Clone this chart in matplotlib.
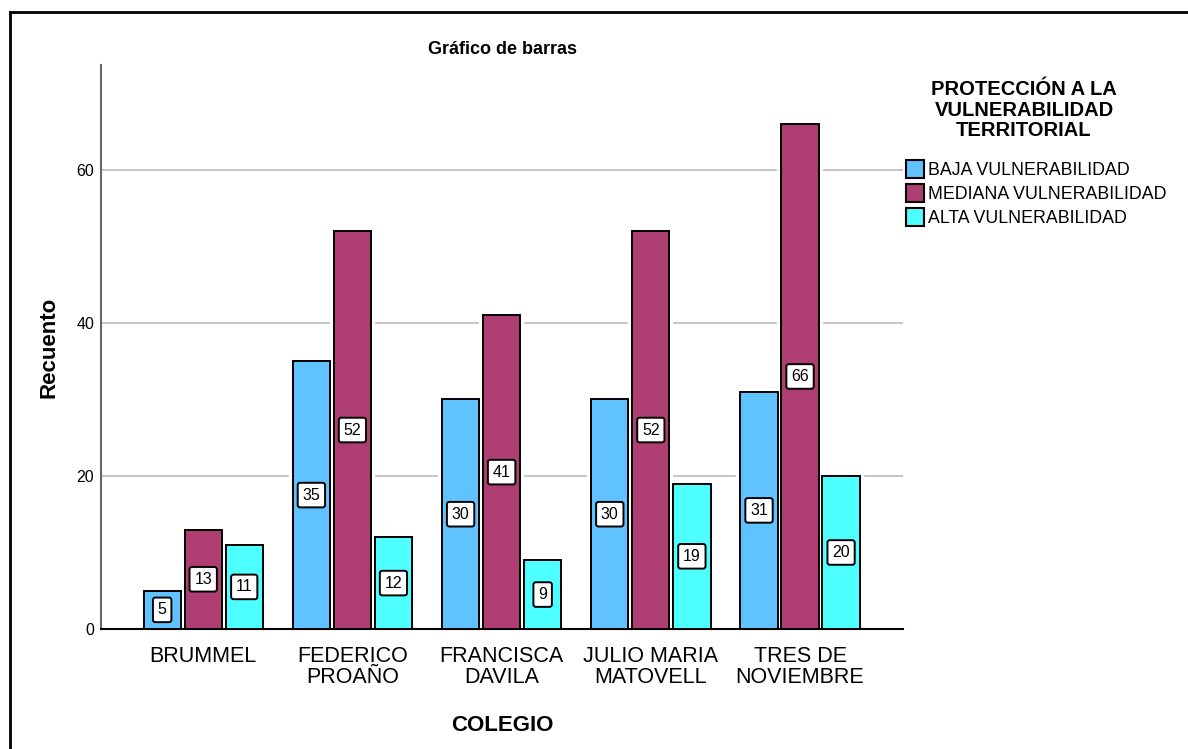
import numpy as np
import matplotlib
matplotlib.use('Agg')
import matplotlib.pyplot as plt
from matplotlib.lines import Line2D
from matplotlib.patches import Patch

plt.rcParams['font.family'] = ['Liberation Sans', 'DejaVu Sans']

# Datos
colegios = ['BRUMMEL', 'FEDERICO\nPROAÑO', 'FRANCISCA\nDAVILA', 'JULIO MARIA\nMATOVELL', 'TRES DE\nNOVIEMBRE']
series = ['BAJA VULNERABILIDAD', 'MEDIANA VULNERABILIDAD', 'ALTA VULNERABILIDAD']
baja = [5, 35, 30, 30, 31]
mediana = [13, 52, 41, 52, 66]
alta = [11, 12, 9, 19, 20]
colores = ['#60C2FF', '#AE3D71', '#4DFFFF']

fig = plt.figure(figsize=(11.88, 7.49), dpi=100)
ax = fig.add_axes([101 / 1188, 1 - 629 / 749, (903 - 101) / 1188, (629 - 65) / 749])

x = np.arange(len(colegios))
width = 0.25
offsets = [-0.275, 0, 0.275]

for vals, off, col in zip([baja, mediana, alta], offsets, colores):
    # contorno blanco que corta las lineas de cuadricula
    ax.bar(x + off, vals, width, color=col, edgecolor='white', linewidth=6, zorder=2)
    bars = ax.bar(x + off, vals, width, color=col, edgecolor='black', linewidth=1.4, zorder=3)
    for b, v in zip(bars, vals):
        ax.text(b.get_x() + b.get_width() / 2, v / 2, str(v), ha='center', va='center',
                fontsize=11.5, zorder=5,
                bbox=dict(boxstyle='round,pad=0.3,rounding_size=0.15', fc='white', ec='black', lw=1.4))

ax.set_xlim(-0.685, 4.69)
ax.set_ylim(0, 73.7)
ax.set_yticks([0, 20, 40, 60])
ax.yaxis.grid(True, color='#c0c0c0', linewidth=1.3, zorder=0)
ax.set_axisbelow(True)
ax.tick_params(axis='y', length=0, labelsize=11.5, pad=5)
ax.tick_params(axis='x', length=0, labelsize=15.5, pad=12)
ax.set_xticks(x)
ax.set_xticklabels(colegios, linespacing=1.0)

for s in ['top', 'right']:
    ax.spines[s].set_visible(False)
ax.spines['left'].set_color('#666666')
ax.spines['left'].set_linewidth(1.5)
ax.spines['bottom'].set_color('black')
ax.spines['bottom'].set_linewidth(1.5)

ax.set_title('Gráfico de barras', fontsize=13, fontweight='bold', pad=8)
ax.set_ylabel('Recuento', fontsize=16, fontweight='bold', labelpad=12)
ax.set_xlabel('COLEGIO', fontsize=16, fontweight='bold', labelpad=20)

# leyenda
fig.text(1024 / 1188, 1 - 110 / 749, 'PROTECCIÓN A LA\nVULNERABILIDAD\nTERRITORIAL',
         ha='center', va='center', fontsize=14.5, fontweight='bold', linespacing=1.12)
handles = [Patch(facecolor=c, edgecolor='black', linewidth=1.5) for c in colores]
leg = fig.legend(handles, series, loc='upper left', bbox_to_anchor=(906 / 1188, 1 - 160 / 749),
                 frameon=False, fontsize=12.8, handlelength=1.0, handleheight=1.15,
                 handletextpad=0.25, labelspacing=0.3, borderaxespad=0, borderpad=0)

# marco exterior
fig.add_artist(Line2D([10 / 1188, 10 / 1188], [0, 1 - 12 / 749], color='black', lw=2, transform=fig.transFigure))
fig.add_artist(Line2D([10 / 1188, 1], [1 - 12 / 749, 1 - 12 / 749], color='black', lw=2, transform=fig.transFigure))

fig.savefig('out.png', dpi=100)
